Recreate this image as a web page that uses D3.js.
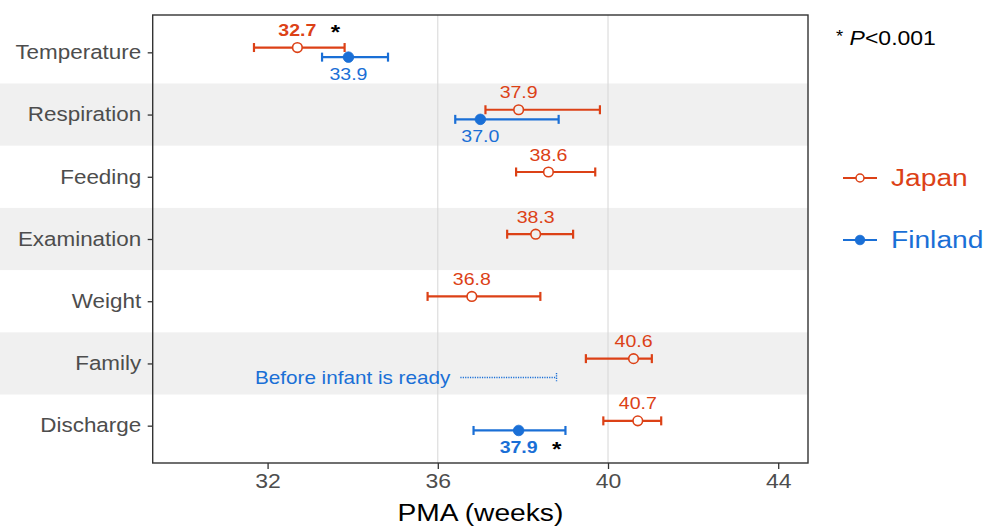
<!DOCTYPE html>
<html>
<head>
<meta charset="utf-8">
<script src="https://cdn.jsdelivr.net/npm/d3@7"></script>
<style>
  body { margin: 0; background: #fff; }
  svg { display: block; font-family: "Liberation Sans", Arial, sans-serif; }
</style>
</head>
<body>
<div id="chart"></div>
<script>
// rows, top to bottom
const categories = ["Temperature", "Respiration", "Feeding", "Examination", "Weight", "Family", "Discharge"];

// Japan: mean and interval ends (weeks PMA)
const japanMean = [32.7, 37.9, 38.6, 38.3, 36.8, 40.6, 40.7];
const japanLow  = [31.68, 37.12, 37.84, 37.63, 35.76, 39.48, 39.89];
const japanHigh = [33.81, 39.81, 39.70, 39.18, 38.41, 41.03, 41.25];

// Finland: only some milestones reported
const finlandMean = [33.9, 37.0, null, null, null, null, 37.9];
const finlandLow  = [33.28, 36.41, null, null, null, null, 36.84];
const finlandHigh = [34.83, 38.84, null, null, null, null, 39.0];

// the earlier country is marked with bold label + asterisk
const japanSig = ["Temperature"];
const finlandSig = ["Discharge"];

const xTicks = [32, 36, 40, 44];
const refLines = [36, 40];
const shadedRows = ["Respiration", "Examination", "Family"];

// Finland family: before infant is ready
const beforeReadyRow = "Family";
const beforeReadyRange = [36.53, 38.79];

const series = [
  {name: "Japan", color: "#dc4116", mean: japanMean, low: japanLow, high: japanHigh, sig: japanSig, open: true, dodge: -4.8, labelDy: -17.5},
  {name: "Finland", color: "#1a6fd6", mean: finlandMean, low: finlandLow, high: finlandHigh, sig: finlandSig, open: false, dodge: 4.8, labelDy: 16.5}
];

const width = 986, height = 528;
const panel = {left: 152.7, right: 808, top: 15, bottom: 463};
const stretch = "scale(1.15,1)";

const svg = d3.select("#chart").append("svg")
  .attr("width", width)
  .attr("height", height);

svg.append("rect").attr("width", width).attr("height", height).attr("fill", "#fff");

const x = d3.scaleLinear().domain([29.3, 44.7]).range([panel.left, panel.right]);
const y = d3.scalePoint().domain(categories).range([panel.top, panel.bottom]).padding(0.6);
const step = y.step();

function placeText(sel, px, py) {
  return sel.attr("transform", `translate(${px},${py}) ${stretch}`);
}

// shaded bands run under the labels too
svg.append("g").selectAll("rect")
  .data(shadedRows)
  .join("rect")
  .attr("x", 0)
  .attr("width", panel.right)
  .attr("y", d => y(d) - step / 2)
  .attr("height", step)
  .attr("fill", "#f0f0f0");

svg.append("g").selectAll("line")
  .data(refLines)
  .join("line")
  .attr("x1", d => x(d)).attr("x2", d => x(d))
  .attr("y1", panel.top).attr("y2", panel.bottom)
  .attr("stroke", "#d6d6d6")
  .attr("stroke-width", 1);

// error bars + points
const capH = 4.5;
series.forEach(s => {
  const rows = categories.map((c, i) => ({cat: c, mean: s.mean[i], low: s.low[i], high: s.high[i]}))
    .filter(d => d.mean != null);
  const g = svg.append("g");
  const yy = d => y(d.cat) + s.dodge;

  g.selectAll(".ci").data(rows).join("line")
    .attr("x1", d => x(d.low)).attr("x2", d => x(d.high))
    .attr("y1", yy).attr("y2", yy)
    .attr("stroke", s.color).attr("stroke-width", 2.2);
  g.selectAll(".capl").data(rows).join("line")
    .attr("x1", d => x(d.low)).attr("x2", d => x(d.low))
    .attr("y1", d => yy(d) - capH).attr("y2", d => yy(d) + capH)
    .attr("stroke", s.color).attr("stroke-width", 2.2);
  g.selectAll(".caph").data(rows).join("line")
    .attr("x1", d => x(d.high)).attr("x2", d => x(d.high))
    .attr("y1", d => yy(d) - capH).attr("y2", d => yy(d) + capH)
    .attr("stroke", s.color).attr("stroke-width", 2.2);

  g.selectAll("circle").data(rows).join("circle")
    .attr("cx", d => x(d.mean)).attr("cy", yy)
    .attr("r", s.open ? 4.8 : 5.3)
    .attr("fill", s.open ? (d => shadedRows.includes(d.cat) ? "#f0f0f0" : "#fff") : s.color)
    .attr("stroke", s.color)
    .attr("stroke-width", s.open ? 1.6 : 0.8);

  g.selectAll("text.val").data(rows).join("text")
    .attr("class", "val")
    .each(function(d) {
      placeText(d3.select(this), x(d.mean), yy(d) + s.labelDy);
    })
    .attr("text-anchor", "middle")
    .attr("dominant-baseline", "central")
    .attr("font-size", 17)
    .attr("font-weight", d => s.sig.includes(d.cat) ? "bold" : "normal")
    .attr("fill", s.color)
    .text(d => d.mean.toFixed(1));

  // asterisk after the bold label
  g.selectAll("text.star").data(rows.filter(d => s.sig.includes(d.cat)))
    .join("text")
    .attr("class", "star")
    .each(function(d) {
      placeText(d3.select(this), x(d.mean) + 38, yy(d) + s.labelDy + 9);
    })
    .attr("text-anchor", "middle")
    .attr("font-size", 21)
    .attr("font-weight", "bold")
    .attr("fill", "#000")
    .text("*");
});

// dotted "before infant is ready" marker for Finland
const fy = y(beforeReadyRow) + 14;
svg.append("line")
  .attr("x1", x(beforeReadyRange[0])).attr("x2", x(beforeReadyRange[1]))
  .attr("y1", fy).attr("y2", fy)
  .attr("stroke", "#1a6fd6").attr("stroke-width", 1.4)
  .attr("stroke-dasharray", "1.2,1.2");
svg.append("line")
  .attr("x1", x(beforeReadyRange[1])).attr("x2", x(beforeReadyRange[1]))
  .attr("y1", fy - 4.5).attr("y2", fy + 4.5)
  .attr("stroke", "#1a6fd6").attr("stroke-width", 1.4)
  .attr("stroke-dasharray", "1.2,1.2");
placeText(svg.append("text"), x(beforeReadyRange[0]) - 10, fy)
  .attr("text-anchor", "end")
  .attr("dominant-baseline", "central")
  .attr("font-size", 18)
  .attr("fill", "#1a6fd6")
  .text("Before infant is ready");

// axes
const xAxis = svg.append("g")
  .attr("transform", `translate(0,${panel.bottom})`)
  .call(d3.axisBottom(x).tickValues(xTicks).tickSize(6).tickPadding(5).tickFormat(d3.format("d")));
xAxis.select(".domain").remove();
xAxis.selectAll(".tick line").attr("stroke", "#333").attr("stroke-width", 1.3);
xAxis.selectAll(".tick text")
  .attr("transform", stretch)
  .attr("font-size", 20)
  .attr("fill", "#4d4d4d");

const yAxis = svg.append("g")
  .attr("transform", `translate(${panel.left},0)`)
  .call(d3.axisLeft(y).tickSize(5).tickPadding(5));
yAxis.select(".domain").remove();
yAxis.selectAll(".tick line").attr("stroke", "#333").attr("stroke-width", 1.3);
yAxis.selectAll(".tick text")
  .attr("transform", stretch)
  .attr("font-size", 19.5)
  .attr("fill", "#4d4d4d");

// panel border
svg.append("rect")
  .attr("x", panel.left).attr("y", panel.top)
  .attr("width", panel.right - panel.left)
  .attr("height", panel.bottom - panel.top)
  .attr("fill", "none")
  .attr("stroke", "#333")
  .attr("stroke-width", 1.4);

placeText(svg.append("text"), (panel.left + panel.right) / 2, 521)
  .attr("text-anchor", "middle")
  .attr("font-size", 24.5)
  .attr("fill", "#000")
  .text("PMA (weeks)");

// p-value note
const note = placeText(svg.append("text"), 836, 45)
  .attr("font-size", 20)
  .attr("fill", "#000");
note.append("tspan").attr("font-size", 16).attr("dy", -3).text("*");
note.append("tspan").attr("dy", 3).text(" ");
note.append("tspan").attr("font-style", "italic").text("P");
note.append("tspan").text("<0.001");

// legend
const legend = svg.append("g").selectAll("g")
  .data(series)
  .join("g")
  .attr("transform", (d, i) => `translate(0,${178 + i * 62})`);
legend.append("line")
  .attr("x1", 843).attr("x2", 877)
  .attr("stroke", d => d.color).attr("stroke-width", 2.2);
legend.append("circle")
  .attr("cx", 860).attr("r", d => d.open ? 4 : 4.8)
  .attr("fill", d => d.open ? "#fff" : d.color)
  .attr("stroke", d => d.color).attr("stroke-width", d => d.open ? 1.5 : 0.8);
legend.append("text")
  .each(function() { placeText(d3.select(this), 891, 0); })
  .attr("dominant-baseline", "central")
  .attr("font-size", 24.5)
  .attr("fill", d => d.color)
  .text(d => d.name);
</script>
</body>
</html>
